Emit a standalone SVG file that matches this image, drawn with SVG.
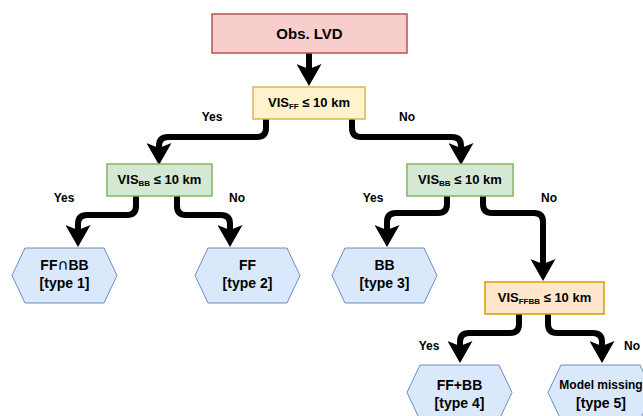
<svg xmlns="http://www.w3.org/2000/svg" width="643" height="416" viewBox="0 0 643 416">
<defs>
<marker id="arr" markerUnits="userSpaceOnUse" markerWidth="22" markerHeight="25" viewBox="0 0 22 25" refX="6" refY="12.5" orient="auto">
<path d="M0,0 L22,12.5 L0,25 L5,12.5 Z" fill="#000"/>
</marker>
</defs>
<style>
text{font-family:"Liberation Sans",Arial,Helvetica,sans-serif;font-weight:bold;fill:#000;text-anchor:middle}
.t15{font-size:15px}
.t13{font-size:13px}
.t14{font-size:14px}
.t12{font-size:12px}
.sub{font-size:8px}
.cap{font-family:"DejaVu Sans",sans-serif;font-size:15px;font-weight:normal}
.red{fill:#f8cecc;stroke:#b85450;stroke-width:1.5}
.yel{fill:#fff2cc;stroke:#d6b656;stroke-width:1.5}
.grn{fill:#d5e8d4;stroke:#82b366;stroke-width:1.5}
.org{fill:#ffe6cc;stroke:#d79b00;stroke-width:1.5}
.hex{fill:#dae8fc;stroke:#6c8ebf;stroke-width:1}
.edge{fill:none;stroke:#000;stroke-width:6;stroke-linejoin:round;marker-end:url(#arr)}
</style>
<rect width="643" height="416" fill="#fff"/>
<g id="connectors">
<path class="edge" d="M309,53 V70"/>
<path class="edge" d="M266,119 V128 Q266,137 257,137 H168 Q159,137 159,146 V149"/>
<path class="edge" d="M352,119 V128 Q352,137 361,137 H452 Q461,137 461,146 V149"/>
<path class="edge" d="M136,196 V206 Q136,215 127,215 H87 Q78,215 78,224 V231"/>
<path class="edge" d="M177,196 V206 Q177,215 186,215 H221 Q230,215 230,224 V231"/>
<path class="edge" d="M447,196 V204 Q447,213 438,213 H396 Q387,213 387,222 V231"/>
<path class="edge" d="M483,196 V204 Q483,213 492,213 H534 Q543,213 543,222 V265"/>
<path class="edge" d="M519,314 V324 Q519,333 510,333 H469 Q460,333 460,342 V347"/>
<path class="edge" d="M548,314 V324 Q548,333 557,333 H593 Q602,333 602,342 V347"/>
</g>
<g id="labels">
<text class="t12" x="212" y="121">Yes</text>
<text class="t12" x="407" y="121">No</text>
<text class="t12" x="64" y="202">Yes</text>
<text class="t12" x="237" y="202">No</text>
<text class="t12" x="373" y="202">Yes</text>
<text class="t12" x="549" y="202">No</text>
<text class="t12" x="429" y="350">Yes</text>
<text class="t12" x="632" y="350">No</text>
</g>
<g id="obs">
<rect class="red" x="212" y="14" width="195" height="39"/>
<text class="t15" x="309.5" y="39">Obs. LVD</text>
</g>
<g id="visff">
<rect class="yel" x="253" y="87" width="112" height="32"/>
<text class="t13" x="309" y="107">VIS<tspan class="sub" dy="2">FF</tspan><tspan dy="-2"> ≤ 10 km</tspan></text>
</g>
<g id="visbb1">
<rect class="grn" x="107" y="164" width="105" height="32"/>
<text class="t13" x="159.5" y="184">VIS<tspan class="sub" dy="2">BB</tspan><tspan dy="-2"> ≤ 10 km</tspan></text>
</g>
<g id="visbb2">
<rect class="grn" x="407" y="164" width="106" height="32"/>
<text class="t13" x="460" y="184">VIS<tspan class="sub" dy="2">BB</tspan><tspan dy="-2"> ≤ 10 km</tspan></text>
</g>
<g id="visffbb">
<rect class="org" x="485" y="282" width="119" height="32"/>
<text class="t13" x="544.5" y="302">VIS<tspan class="sub" dy="2">FFBB</tspan><tspan dy="-2"> ≤ 10 km</tspan></text>
</g>
<g id="type1">
<polygon class="hex" points="12,275.5 25,248 104,248 117,275.5 104,303 25,303"/>
<text class="t14" x="64.5" y="270">FF<tspan class="cap">∩</tspan>BB</text>
<text class="t14" x="64.5" y="288">[type 1]</text>
</g>
<g id="type2">
<polygon class="hex" points="195,275.5 208,248 287,248 300,275.5 287,303 208,303"/>
<text class="t14" x="247.5" y="270">FF</text>
<text class="t14" x="247.5" y="288">[type 2]</text>
</g>
<g id="type3">
<polygon class="hex" points="332,275.5 345,248 424,248 437,275.5 424,303 345,303"/>
<text class="t14" x="384.5" y="270">BB</text>
<text class="t14" x="384.5" y="288">[type 3]</text>
</g>
<g id="type4">
<polygon class="hex" points="407,392.5 420,365 499,365 512,392.5 499,420 420,420"/>
<text class="t14" x="459.5" y="390">FF+BB</text>
<text class="t14" x="459.5" y="408">[type 4]</text>
</g>
<g id="type5">
<polygon class="hex" points="548,392.5 561,365 640,365 653,392.5 640,420 561,420"/>
<text class="t12" x="601" y="389">Model missing</text>
<text class="t14" x="601" y="408">[type 5]</text>
</g>
</svg>
